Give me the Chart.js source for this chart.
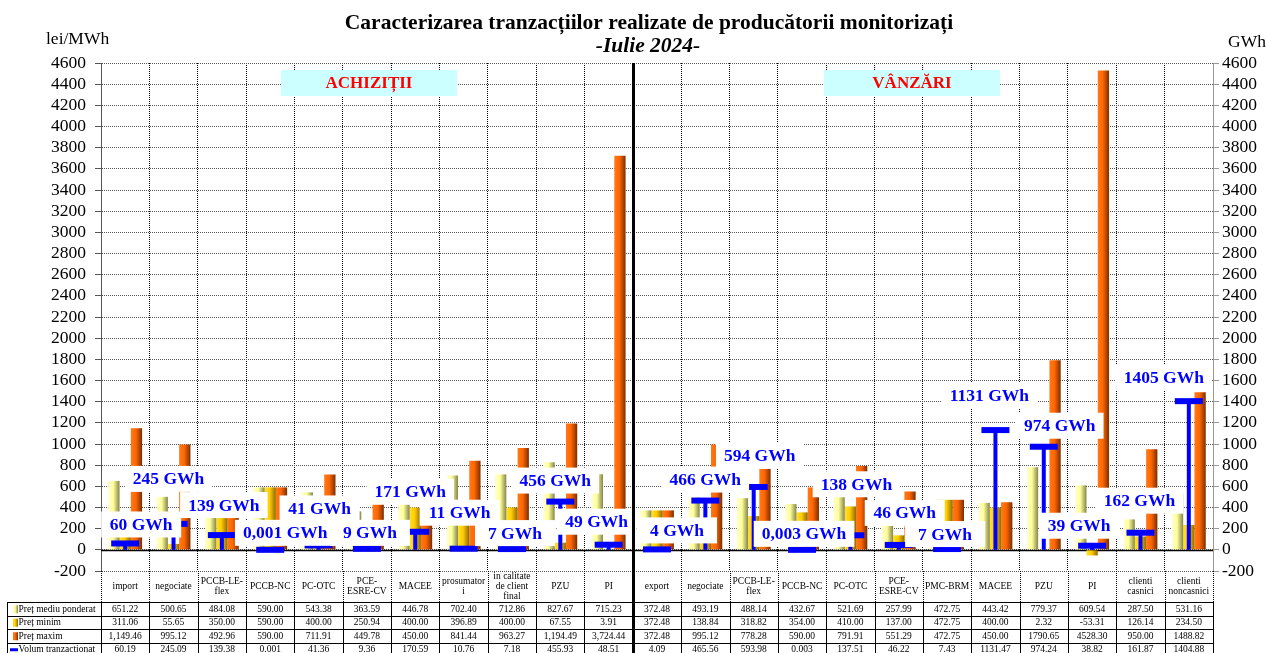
<!DOCTYPE html>
<html>
<head>
<meta charset="utf-8">
<script src="https://cdn.jsdelivr.net/npm/chart.js@4.4.1/dist/chart.umd.min.js"></script>
<style>
  body { margin: 0; background: #fff; }
  #wrap { width: 1266px; height: 653px; position: relative; }
</style>
</head>
<body>
<div id="wrap"><canvas id="chart"></canvas></div>
<script>
const categories = [
  'import', 'negociate', ['PCCB-LE-', 'flex'], 'PCCB-NC', 'PC-OTC', ['PCE-', 'ESRE-CV'], 'MACEE',
  ['prosumator', 'i'], ['in calitate', 'de client', 'final'], 'PZU', 'PI',
  'export', 'negociate', ['PCCB-LE-', 'flex'], 'PCCB-NC', 'PC-OTC', ['PCE-', 'ESRE-CV'], 'PMC-BRM',
  'MACEE', 'PZU', 'PI', ['clienti', 'casnici'], ['clienti', 'noncasnici']
];
const pretMediu = [651.22, 500.65, 484.08, 590.00, 543.38, 363.59, 446.78, 702.40, 712.86, 827.67, 715.23,
  372.48, 493.19, 488.14, 432.67, 521.69, 257.99, 472.75, 443.42, 779.37, 609.54, 287.50, 531.16];
const pretMinim = [311.06, 55.65, 350.00, 590.00, 400.00, 250.94, 400.00, 396.89, 400.00, 67.55, 3.91,
  372.48, 138.84, 318.82, 354.00, 410.00, 137.00, 472.75, 400.00, 2.32, -53.31, 126.14, 234.50];
const pretMaxim = [1149.46, 995.12, 492.96, 590.00, 711.91, 449.78, 450.00, 841.44, 963.27, 1194.49, 3724.44,
  372.48, 995.12, 778.28, 590.00, 791.91, 551.29, 472.75, 450.00, 1790.65, 4528.30, 950.00, 1488.82];
const volum = [60.19, 245.09, 139.38, 0.001, 41.36, 9.36, 170.59, 10.76, 7.18, 455.93, 48.51,
  4.09, 465.56, 593.98, 0.003, 137.51, 46.22, 7.43, 1131.47, 974.24, 38.82, 161.87, 1404.88];
const rowNames = ['Preț mediu ponderat', 'Preț minim', 'Preț maxim', 'Volum tranzactionat'];
const yMin = -200, yMax = 4600, yStep = 200;

// where each GWh label sits relative to its mark (px)
const labelShift = [[16,-19],[-5,-45],[2,-30],[15,-17],[1,-37],[3,-16],[-5,-40],[-4,-36],[3,-16],[-5,-21],[-12,-23],
  [20,-19],[0,-21],[6,-31],[2,-16],[6,-51],[6,-32],[-2,-15],[-6,-35],[16,-21],[-13,-20],[-1,-32],[-25,-24]];

const SERIF = '"Liberation Serif", "Times New Roman", serif';
const BLUE = '#0000FF';
const creamStops = [[0, '#FFFFD0'], [0.45, '#FFFF99'], [1, '#85854A']];
const yellowStops = [[0, '#FFE033'], [0.45, '#FFCC00'], [1, '#8F6A00']];
const orangeStops = [[0, '#FF7A1A'], [0.45, '#FF6600'], [1, '#7A2E00']];

function shade(stops) {
  return c => {
    const el = c.element;
    if (!el || el.x == null || !el.width) return stops[1][1];
    const g = c.chart.ctx.createLinearGradient(el.x - el.width / 2, 0, el.x + el.width / 2, 0);
    stops.forEach(s => g.addColorStop(s[0], s[1]));
    return g;
  };
}

function fmtPrice(v, i) {
  if (i < 11 && Math.abs(v) >= 1000) return v.toLocaleString('en-US', { minimumFractionDigits: 2, maximumFractionDigits: 2 });
  return v.toFixed(2);
}
function fmtVol(v) { return v < 0.01 ? v.toFixed(3) : v.toFixed(2); }
function volLabel(v) { return (v < 0.01 ? v.toFixed(3).replace('.', ',') : Math.round(v)) + ' GWh'; }

const decor = {
  id: 'decor',
  beforeDraw(chart) {
    const ctx = chart.ctx;
    ctx.save();
    ctx.fillStyle = '#fff';
    ctx.fillRect(0, 0, chart.width, chart.height);
    ctx.restore();
  },
  beforeDatasetsDraw(chart) {
    const { ctx, chartArea: ca, scales: { y } } = chart;
    const y0 = Math.round(y.getPixelForValue(0)) + 0.5;
    ctx.save();
    ctx.strokeStyle = '#000';
    ctx.lineWidth = 1.5;
    ctx.beginPath(); ctx.moveTo(ca.left, y0); ctx.lineTo(ca.right, y0); ctx.stroke();
    ctx.restore();
  },
  afterDatasetsDraw(chart) {
    const { ctx, scales: { x, y2 } } = chart;
    ctx.save();
    // volume stems, from 0 up to the cap
    ctx.fillStyle = BLUE;
    volum.forEach((v, i) => {
      const px = x.getPixelForValue(i);
      const top = y2.getPixelForValue(v), base = y2.getPixelForValue(0);
      ctx.fillRect(px - 2, top, 4, base - top);
    });
    ctx.font = 'bold 17.5px ' + SERIF;
    ctx.textAlign = 'center';
    ctx.textBaseline = 'middle';
    volum.forEach((v, i) => {
      const t = volLabel(v);
      const cx = x.getPixelForValue(i) + labelShift[i][0];
      const cy = y2.getPixelForValue(v) + labelShift[i][1];
      const w = Math.max(ctx.measureText(t).width + 16, 80);
      ctx.fillStyle = '#fff';
      ctx.fillRect(cx - w / 2, cy - 13, w, 26);
      ctx.fillStyle = BLUE;
      ctx.fillText(t, cx, cy + 1);
    });
    ctx.restore();
  },
  afterDraw(chart) {
    const { ctx, chartArea: ca, scales: { x } } = chart;
    ctx.save();
    // title
    ctx.fillStyle = '#000';
    ctx.textAlign = 'center';
    ctx.textBaseline = 'middle';
    ctx.font = 'bold 21.5px ' + SERIF;
    ctx.fillText('Caracterizarea tranzacțiilor realizate de producătorii monitorizați', 649, 23);
    ctx.font = 'italic bold 21.5px ' + SERIF;
    ctx.fillText('-Iulie 2024-', 648, 46);
    ctx.font = '17.5px ' + SERIF;
    ctx.textAlign = 'left';
    ctx.fillText('lei/MWh', 46, 39);
    ctx.fillText('GWh', 1228, 42);

    // section boxes
    [['ACHIZIȚII', 281], ['VÂNZĂRI', 824]].forEach(([t, bx]) => {
      ctx.fillStyle = '#CCFFFF';
      ctx.fillRect(bx, 70, 176, 26);
      ctx.fillStyle = '#FF0000';
      ctx.font = 'bold 17px ' + SERIF;
      ctx.textAlign = 'center';
      ctx.fillText(t, bx + 88, 84);
    });

    // data table
    const top = ca.bottom;
    const hdrBottom = top + 31;
    const rowH = 13.5;
    const bottom = hdrBottom + rowH * 4;
    const n = categories.length;
    const edge = i => Math.round(x.getPixelForValue(i - 0.5)) + 0.5;

    ctx.strokeStyle = '#000';
    ctx.lineWidth = 1;
    ctx.setLineDash([1, 1]);
    for (let i = 0; i <= n; i++) {
      ctx.beginPath(); ctx.moveTo(edge(i), top); ctx.lineTo(edge(i), hdrBottom); ctx.stroke();
    }
    ctx.setLineDash([]);
    for (let r = 0; r <= 4; r++) {
      const yy = Math.round(hdrBottom + r * rowH) + 0.5;
      ctx.beginPath(); ctx.moveTo(7.5, yy); ctx.lineTo(edge(n), yy); ctx.stroke();
    }
    [7.5].concat([...Array(n + 1).keys()].map(edge)).forEach(xx => {
      ctx.beginPath(); ctx.moveTo(xx, hdrBottom); ctx.lineTo(xx, bottom); ctx.stroke();
    });

    ctx.fillStyle = '#000';
    ctx.textAlign = 'center';
    ctx.textBaseline = 'middle';
    ctx.font = '9.5px ' + SERIF;
    categories.forEach((c, i) => {
      const lines = Array.isArray(c) ? c : [c];
      const cx = x.getPixelForValue(i);
      const mid = (top + hdrBottom) / 2;
      lines.forEach((ln, k) => ctx.fillText(ln, cx, mid + (k - (lines.length - 1) / 2) * 10));
    });
    const rows = [pretMediu.map(fmtPrice), pretMinim.map(fmtPrice), pretMaxim.map(fmtPrice), volum.map(fmtVol)];
    rows.forEach((vals, r) => {
      const cy = hdrBottom + r * rowH + rowH / 2 + 0.5;
      vals.forEach((t, i) => ctx.fillText(t, x.getPixelForValue(i), cy));
    });
    // row legend
    const keys = [creamStops, yellowStops, orangeStops];
    ctx.textAlign = 'left';
    rowNames.forEach((name, r) => {
      const cy = hdrBottom + r * rowH + rowH / 2 + 0.5;
      if (r < 3) {
        const g = ctx.createLinearGradient(13, 0, 18, 0);
        keys[r].forEach(s => g.addColorStop(s[0], s[1]));
        ctx.fillStyle = g;
        ctx.fillRect(13, cy - 4, 5, 8);
      } else {
        ctx.fillStyle = BLUE;
        ctx.fillRect(10, cy - 1.5, 8, 3);
      }
      ctx.fillStyle = '#000';
      ctx.fillText(name, 18.5, cy);
    });

    // divider between achizitii and vanzari
    const dx = Math.round(x.getPixelForValue(10.5));
    ctx.fillStyle = '#000';
    ctx.fillRect(dx - 1, ca.top, 3, chart.height - ca.top);
    ctx.restore();
  }
};

const tickFont = { family: SERIF, size: 17.5 };

const chart = new Chart(document.getElementById('chart'), {
  type: 'bar',
  data: {
    labels: categories,
    datasets: [
      { label: rowNames[0], data: pretMediu, backgroundColor: shade(creamStops), yAxisID: 'y', order: 3 },
      { label: rowNames[1], data: pretMinim, backgroundColor: shade(yellowStops), yAxisID: 'y', order: 3 },
      { label: rowNames[2], data: pretMaxim, backgroundColor: shade(orangeStops), yAxisID: 'y', order: 3 },
      {
        type: 'line', label: rowNames[3], data: volum, yAxisID: 'y2', order: 0,
        showLine: false, pointStyle: 'line', pointRadius: 14, pointHoverRadius: 14,
        pointBorderWidth: 6, pointHoverBorderWidth: 6, pointBorderColor: BLUE, borderColor: BLUE
      }
    ]
  },
  options: {
    responsive: true,
    maintainAspectRatio: false,
    animation: false,
    events: [],
    layout: { padding: { top: 63, bottom: 82, left: 0, right: 0 } },
    datasets: { bar: { categoryPercentage: 0.7, barPercentage: 1.0 } },
    plugins: { legend: { display: false }, tooltip: { enabled: false }, title: { display: false } },
    scales: {
      x: {
        type: 'category', offset: true,
        grid: { offset: true, color: '#000', lineWidth: 1, drawTicks: false },
        border: { display: false, dash: [1, 1] },
        ticks: { display: false },
        afterFit: s => { s.height = 0; }
      },
      y: {
        position: 'left', min: yMin, max: yMax,
        ticks: { stepSize: yStep, autoSkip: false, color: '#000', font: tickFont, padding: 9, callback: v => String(v) },
        grid: { color: '#555', lineWidth: 1, tickLength: 6, tickColor: '#555' },
        border: { color: '#555', dash: [1, 1] },
        afterFit: s => { s.width = 101; }
      },
      y2: {
        position: 'right', min: yMin, max: yMax,
        ticks: { stepSize: yStep, autoSkip: false, color: '#000', font: tickFont, padding: 3, callback: v => String(v) },
        grid: { drawOnChartArea: false, tickLength: 6, tickColor: '#999' },
        border: { color: '#999' },
        afterFit: s => { s.width = 53; }
      }
    }
  },
  plugins: [decor]
});
chart.update();
</script>
</body>
</html>
